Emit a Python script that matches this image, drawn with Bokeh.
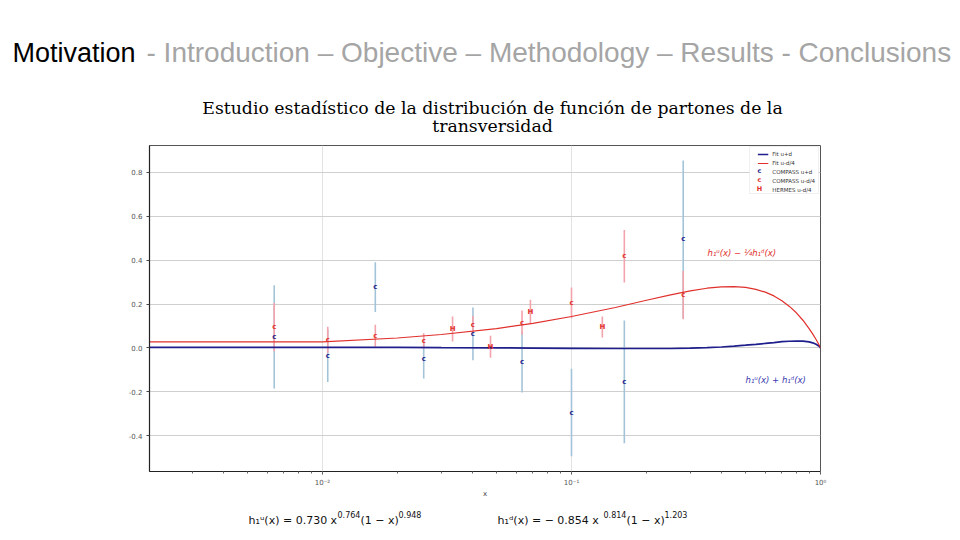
from bokeh.plotting import figure
from bokeh.layouts import column
from bokeh.models import (Label, Legend, LegendItem, FixedTicker, CustomJSTickFormatter,
                          ColumnDataSource, Range1d, BoxAnnotation)
from bokeh.core.properties import value
from bokeh.embed import file_html
from bokeh.resources import INLINE

# ---------------- data ----------------
compass_x = [0.0064, 0.0105, 0.0163, 0.0255, 0.0402, 0.0633, 0.1, 0.163, 0.281]
compass_ud_y = [0.05, -0.036, 0.277, -0.05, 0.064, -0.064, -0.295, -0.155, 0.495]
compass_ud_err = [0.235, 0.12, 0.114, 0.09, 0.12, 0.14, 0.2, 0.28, 0.36]
compass_ud4_y = [0.095, 0.036, 0.055, 0.032, 0.105, 0.115, 0.205, 0.418, 0.24]
compass_ud4_err = [0.11, 0.06, 0.05, 0.035, 0.04, 0.055, 0.07, 0.12, 0.11]

hermes_x = [0.0333, 0.0473, 0.0684, 0.133]
hermes_ud4_y = [0.086, 0.005, 0.164, 0.095]
hermes_ud4_err = [0.057, 0.05, 0.055, 0.048]

fit_x = [0.00202, 0.01, 0.02, 0.03, 0.05, 0.07, 0.1, 0.15, 0.2, 0.25, 0.3, 0.35, 0.4,
         0.45, 0.5, 0.55, 0.6, 0.65, 0.7, 0.75, 0.8, 0.85, 0.9, 0.93, 0.96, 0.98, 0.99, 1.0]
fit_ud4 = [0.027, 0.027, 0.045, 0.061, 0.088, 0.112, 0.143, 0.184, 0.217, 0.242, 0.260,
           0.272, 0.278, 0.279, 0.276, 0.267, 0.254, 0.237, 0.215, 0.189, 0.160, 0.126,
           0.088, 0.064, 0.038, 0.020, 0.010, 0.0]
fit_ud = [0.002, 0.002, 0.002, 0.001, 0.000, -0.001, -0.002, -0.003, -0.003, -0.003,
          -0.001, 0.001, 0.004, 0.008, 0.012, 0.016, 0.020, 0.024, 0.028, 0.030, 0.031,
          0.031, 0.027, 0.023, 0.016, 0.010, 0.006, 0.0]

y_ticks = [-0.4, -0.2, 0.0, 0.2, 0.4, 0.6, 0.8]

header_main = "Motivation"
header_rest = "- Introduction \u2013 Objective \u2013 Methodology \u2013 Results - Conclusions"
title_lines = ["Estudio estad\u00edstico de la distribuci\u00f3n de funci\u00f3n de partones de la",
               "transversidad"]
legend_labels = ["Fit u+d", "Fit u-d/4", "COMPASS u+d", "COMPASS u-d/4", "HERMES u-d/4"]

# ---------------- colours ----------------
BLUE = "#1e1e8c"
RED = "#e0302c"
BLUE_ERR = "#a3c4d8"
RED_ERR = "#f3a3ab"

W = 956
TOP_H = 140      # page y 0..140
MAIN_H = 360     # page y 140..500
BOT_H = 28       # page y 500..528


def blank_fig(h):
    f = figure(width=W, height=h, output_backend="svg", toolbar_location=None,
               x_range=Range1d(0, W), y_range=Range1d(0, h),
               x_axis_location=None, y_axis_location=None, frame_align=False,
               min_border=0, min_border_left=0, min_border_right=0,
               min_border_top=0, min_border_bottom=0)
    f.outline_line_color = None
    f.xgrid.visible = False
    f.ygrid.visible = False
    f.background_fill_color = "white"
    f.border_fill_color = "white"
    return f


# ---------------- header / title ----------------
top = blank_fig(TOP_H)


def TL(px, py, text, **kw):
    top.add_layout(Label(x=px, y=TOP_H - py, text=text, **kw))


TL(12, 52, header_main, text_font="Liberation Sans", text_font_size="27px",
   text_color="#000000", text_baseline="middle")
TL(146, 52, header_rest, text_font="Liberation Sans", text_font_size="28px",
   text_color="#a5a5a5", text_baseline="middle")
TL(492, 107, title_lines[0], text_font="DejaVu Serif", text_font_size="17.3px",
   text_font_style="normal", text_color="#000000", text_align="center", text_baseline="middle")
TL(492, 125, title_lines[1], text_font="DejaVu Serif", text_font_size="17.3px",
   text_font_style="normal", text_color="#000000", text_align="center", text_baseline="middle")

# ---------------- main plot ----------------
p = figure(width=W, height=MAIN_H, output_backend="svg", toolbar_location=None,
           x_axis_type="log", frame_align=False,
           x_range=Range1d(0.00202, 1.0), y_range=Range1d(-0.564, 0.923),
           min_border_left=149, min_border_right=W - 820, min_border_top=5,
           min_border_bottom=28)
p.background_fill_color = "white"
p.border_fill_color = "white"
p.outline_line_color = "#555555"
p.outline_line_width = 1

for ax in (p.xaxis[0], p.yaxis[0]):
    ax.axis_line_color = "#222222"
    ax.axis_line_width = 1.2
    ax.major_tick_line_color = "#444444"
    ax.major_tick_out = 3
    ax.major_tick_in = 0
    ax.major_label_text_font = "DejaVu Sans"
    ax.major_label_text_font_size = "7px"
    ax.major_label_text_color = "#555555"
p.yaxis.ticker = FixedTicker(ticks=y_ticks)
p.yaxis.formatter = CustomJSTickFormatter(code="return tick.toFixed(1);")
p.yaxis.minor_tick_line_color = None
p.yaxis.major_label_standoff = 4
p.xaxis.minor_tick_out = 2
p.xaxis.minor_tick_in = 0
p.xaxis.minor_tick_line_color = "#666666"
p.xaxis.major_label_standoff = 4
p.xaxis.formatter = CustomJSTickFormatter(code="""
const e = Math.round(Math.log10(tick));
const sup = {'-':'\u207b','0':'\u2070','1':'\u00b9','2':'\u00b2','3':'\u00b3'};
return '10' + String(e).split('').map(c => sup[c]).join('');
""")
p.xaxis.axis_label = "x"
p.xaxis.axis_label_text_font = "DejaVu Sans"
p.xaxis.axis_label_text_font_size = "7px"
p.xaxis.axis_label_text_font_style = "normal"
p.xaxis.axis_label_text_color = "#444444"
p.xaxis.axis_label_standoff = 0

p.ygrid.grid_line_color = "#cfcfcf"
p.ygrid.grid_line_width = 1
p.xgrid.grid_line_color = "#e2e2e2"
p.xgrid.grid_line_width = 1


def lo(y, e):
    return [a - b for a, b in zip(y, e)]


def hi(y, e):
    return [a + b for a, b in zip(y, e)]


# error bars
p.segment(x0=compass_x, y0=lo(compass_ud_y, compass_ud_err), x1=compass_x,
          y1=hi(compass_ud_y, compass_ud_err), line_color=BLUE_ERR, line_width=1.6)
p.segment(x0=compass_x, y0=lo(compass_ud4_y, compass_ud4_err), x1=compass_x,
          y1=hi(compass_ud4_y, compass_ud4_err), line_color=RED_ERR, line_width=1.6)
p.segment(x0=hermes_x, y0=lo(hermes_ud4_y, hermes_ud4_err), x1=hermes_x,
          y1=hi(hermes_ud4_y, hermes_ud4_err), line_color=RED_ERR, line_width=1.6)

# fit curves
r_fit_ud = p.line(fit_x, fit_ud, line_color=BLUE, line_width=1.7)
r_fit_ud4 = p.line(fit_x, fit_ud4, line_color=RED, line_width=1.2)

# letter markers
src_cud = ColumnDataSource(dict(x=compass_x, y=compass_ud_y, t=["c"] * len(compass_x)))
src_cud4 = ColumnDataSource(dict(x=compass_x, y=compass_ud4_y, t=["c"] * len(compass_x)))
src_h = ColumnDataSource(dict(x=hermes_x, y=hermes_ud4_y, t=["H"] * len(hermes_x)))
common = dict(text="t", text_align="center", text_baseline="middle",
              text_font=value("DejaVu Sans"), text_font_size="7px", text_font_style="bold")
r_cud = p.text(x="x", y="y", source=src_cud, text_color=BLUE, **common)
r_cud4 = p.text(x="x", y="y", source=src_cud4, text_color=RED, **common)
r_h = p.text(x="x", y="y", source=src_h, text_color=RED, **common)

# legend frame (white box under a transparent legend)
FL, FB = 149, 472   # frame left / bottom on the page
p.add_layout(BoxAnnotation(left=749 - FL, right=818 - FL, top=FB - 147, bottom=FB - 194,
                           left_units="screen", right_units="screen",
                           top_units="screen", bottom_units="screen",
                           fill_color="white", fill_alpha=1.0,
                           line_color="#cccccc", line_width=1, level="annotation"))

legend = Legend(items=[LegendItem(label=legend_labels[0], renderers=[r_fit_ud]),
                       LegendItem(label=legend_labels[1], renderers=[r_fit_ud4]),
                       LegendItem(label=legend_labels[2], renderers=[r_cud]),
                       LegendItem(label=legend_labels[3], renderers=[r_cud4]),
                       LegendItem(label=legend_labels[4], renderers=[r_h])],
                location="top_right", margin=5, padding=3, spacing=1,
                glyph_width=11, glyph_height=8, label_height=8,
                label_text_font="DejaVu Sans", label_text_font_size="5.5px",
                label_text_color="#333333", label_standoff=4,
                border_line_color=None, background_fill_alpha=0.0)
p.add_layout(legend)


# labels inside the frame (frame: page x 149..820, y 145..472)
def PL(px, py, text, **kw):
    p.add_layout(Label(x=px - FL, y=FB - py, x_units="screen", y_units="screen",
                       text=text, **kw))


# letter symbols for the legend rows of the point series
for sym, col, row in (("c", BLUE, 2), ("c", RED, 3), ("H", RED, 4)):
    PL(759, 154 + 8.75 * row, sym, text_font="DejaVu Sans", text_font_size="6.5px",
       text_font_style="bold", text_color=col, text_align="center", text_baseline="middle",
       level="overlay")

PL(707, 253, "h\u2081\u1d58(x) \u2212 \u00bch\u2081\u1d48(x)", text_font="DejaVu Sans",
   text_font_size="8.5px", text_font_style="italic", text_color=RED, text_baseline="middle")
PL(745, 380, "h\u2081\u1d58(x) + h\u2081\u1d48(x)", text_font="DejaVu Sans",
   text_font_size="8.5px", text_font_style="italic", text_color="#3a3ab0",
   text_baseline="middle")

# ---------------- formulas ----------------
bot = blank_fig(BOT_H)


def BL(px, py, text, **kw):
    bot.add_layout(Label(x=px, y=528 - py, text=text, **kw))


fkw = dict(text_font="DejaVu Sans", text_color="#111111", text_baseline="middle")
BL(248, 520, "h\u2081\u1d58(x) = 0.730 x", text_font_size="11px", **fkw)
BL(337, 514, "0.764", text_font_size="8px", **fkw)
BL(360, 520, "(1 \u2212 x)", text_font_size="11px", **fkw)
BL(398, 514, "0.948", text_font_size="8px", **fkw)
BL(497, 520, "h\u2081\u1d48(x) = \u2212 0.854 x", text_font_size="11px", **fkw)
BL(603, 514, "0.814", text_font_size="8px", **fkw)
BL(626, 520, "(1 \u2212 x)", text_font_size="11px", **fkw)
BL(664, 514, "1.203", text_font_size="8px", **fkw)

layout = column(top, p, bot, spacing=0)
open("out.html", "w").write(file_html(layout, INLINE))
